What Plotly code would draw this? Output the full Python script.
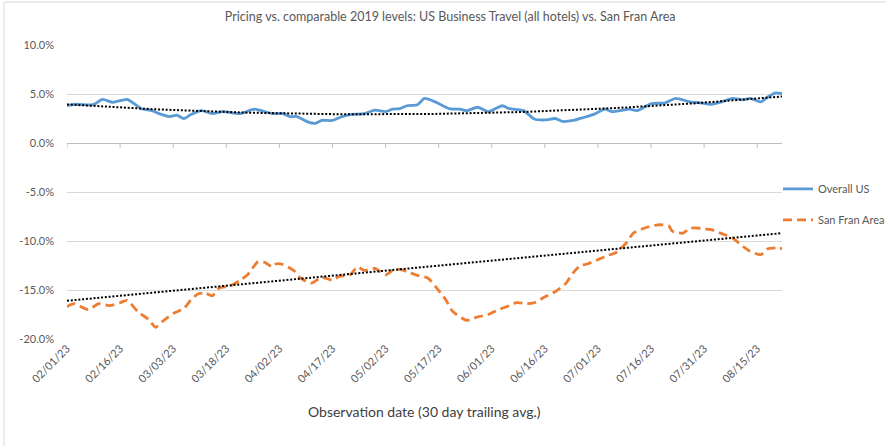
import numpy as np
import pandas as pd
import plotly.graph_objects as go

# Overall US: 30-day trailing average pricing vs. 2019 (%)
us_dates = [
    "2023-02-01", "2023-02-03", "2023-02-08", "2023-02-09", "2023-02-11", "2023-02-14",
    "2023-02-18", "2023-02-22", "2023-02-25", "2023-02-27", "2023-03-02", "2023-03-04",
    "2023-03-06", "2023-03-08", "2023-03-11", "2023-03-14", "2023-03-17", "2023-03-22",
    "2023-03-26", "2023-03-31", "2023-04-03", "2023-04-05", "2023-04-07", "2023-04-10",
    "2023-04-12", "2023-04-14", "2023-04-17", "2023-04-19", "2023-04-22", "2023-04-26",
    "2023-04-29", "2023-05-02", "2023-05-04", "2023-05-06", "2023-05-08", "2023-05-11",
    "2023-05-13", "2023-05-16", "2023-05-20", "2023-05-23", "2023-05-25", "2023-05-28",
    "2023-05-31", "2023-06-04", "2023-06-06", "2023-06-10", "2023-06-13", "2023-06-16",
    "2023-06-19", "2023-06-21", "2023-06-24", "2023-06-27", "2023-06-30", "2023-07-03",
    "2023-07-05", "2023-07-10", "2023-07-12", "2023-07-16", "2023-07-20", "2023-07-23",
    "2023-07-27", "2023-07-30", "2023-08-02", "2023-08-05", "2023-08-08", "2023-08-11",
    "2023-08-13", "2023-08-16", "2023-08-18", "2023-08-20", "2023-08-22",
]
us_values = [
    3.8, 3.95, 3.9, 4.0, 4.45, 4.15,
    4.45, 3.5, 3.3, 3.0, 2.7, 2.85,
    2.5, 2.9, 3.3, 3.0, 3.2, 3.0,
    3.45, 3.0, 3.0, 2.7, 2.7, 2.15,
    2.0, 2.3, 2.3, 2.6, 2.9, 3.0,
    3.35, 3.2, 3.45, 3.5, 3.8, 3.9,
    4.55, 4.2, 3.5, 3.45, 3.3, 3.65,
    3.2, 3.8, 3.5, 3.3, 2.45, 2.35,
    2.5, 2.2, 2.3, 2.6, 2.95, 3.45,
    3.2, 3.45, 3.3, 4.0, 4.1, 4.55,
    4.2, 4.1, 3.95, 4.2, 4.55, 4.4,
    4.55, 4.2, 4.7, 5.1, 5.05,
]

# San Fran Area: 30-day trailing average pricing vs. 2019 (%)
sf_dates = [
    "2023-02-01", "2023-02-03", "2023-02-07", "2023-02-10", "2023-02-13", "2023-02-16",
    "2023-02-18", "2023-02-21", "2023-02-24", "2023-02-26", "2023-02-28", "2023-03-03",
    "2023-03-06", "2023-03-08", "2023-03-10", "2023-03-12", "2023-03-14", "2023-03-16",
    "2023-03-19", "2023-03-22", "2023-03-24", "2023-03-27", "2023-03-29", "2023-03-31",
    "2023-04-01", "2023-04-03", "2023-04-06", "2023-04-08", "2023-04-11", "2023-04-14",
    "2023-04-17", "2023-04-19", "2023-04-22", "2023-04-24", "2023-04-26", "2023-04-29",
    "2023-05-02", "2023-05-04", "2023-05-06", "2023-05-09", "2023-05-11", "2023-05-14",
    "2023-05-16", "2023-05-19", "2023-05-21", "2023-05-25", "2023-05-28", "2023-05-31",
    "2023-06-03", "2023-06-06", "2023-06-08", "2023-06-11", "2023-06-13", "2023-06-16",
    "2023-06-19", "2023-06-22", "2023-06-24", "2023-06-26", "2023-06-28", "2023-07-01",
    "2023-07-04", "2023-07-06", "2023-07-09", "2023-07-11", "2023-07-14", "2023-07-18",
    "2023-07-21", "2023-07-22", "2023-07-25", "2023-07-27", "2023-07-30", "2023-08-02",
    "2023-08-05", "2023-08-08", "2023-08-11", "2023-08-13", "2023-08-16", "2023-08-18",
    "2023-08-21", "2023-08-22",
]
sf_values = [
    -16.7, -16.4, -17.0, -16.4, -16.6, -16.3,
    -16.05, -17.2, -18.0, -18.8, -18.2, -17.4,
    -16.9, -16.0, -15.4, -15.3, -15.6, -14.8,
    -14.6, -14.0, -13.45, -12.1, -12.2, -12.65,
    -12.35, -12.4, -13.0, -13.8, -14.3, -13.7,
    -14.0, -13.6, -13.45, -12.65, -13.0, -12.8,
    -13.45, -13.0, -12.9, -13.25, -13.5, -13.8,
    -14.6, -16.0, -17.2, -18.1, -17.75, -17.5,
    -17.0, -16.6, -16.3, -16.4, -16.3, -15.7,
    -15.15, -14.3, -13.25, -12.5, -12.35, -11.9,
    -11.45, -11.2, -10.2, -9.2, -8.7, -8.35,
    -8.45, -9.0, -9.2, -8.7, -8.7, -8.85,
    -9.25, -9.7, -10.55, -11.05, -11.4, -10.8,
    -10.7, -10.8,
]

# Linear trendline for San Fran Area (values at the first and last date)
sf_trend_dates = ["2023-02-01", "2023-08-22"]
sf_trend_values = [-16.1, -9.2]

tick_dates = [
    "2023-02-01", "2023-02-16", "2023-03-03", "2023-03-18", "2023-04-02", "2023-04-17",
    "2023-05-02", "2023-05-17", "2023-06-01", "2023-06-16", "2023-07-01", "2023-07-16",
    "2023-07-31", "2023-08-15",
]
y_ticks = [10, 5, 0, -5, -10, -15, -20]
y_tick_labels = [f"{v:.1f}%" for v in y_ticks]

title_text = "Pricing vs. comparable 2019 levels: US Business Travel (all hotels) vs. San Fran Area"
x_title = "Observation date (30 day trailing avg.)"

FONT = "Lato"
BLUE = "#5b9bd5"
ORANGE = "#ed7d31"
GRID = "#d9d9d9"
TEXT = "#595959"

start = pd.Timestamp("2023-02-01")
end = pd.Timestamp("2023-08-22")


def poly_trend(dates, values, order):
    """Least-squares polynomial trendline evaluated daily across the range."""
    d = (pd.to_datetime(dates) - start).days.to_numpy(dtype=float)
    coef = np.polyfit(d, np.asarray(values, dtype=float), order)
    grid = np.arange(0, (end - start).days + 1, dtype=float)
    return start + pd.to_timedelta(grid, unit="D"), np.polyval(coef, grid)


us_tx, us_ty = poly_trend(us_dates, us_values, 2)

fig = go.Figure()
fig.add_trace(go.Scatter(
    x=pd.to_datetime(us_dates), y=us_values, name="Overall US", mode="lines",
    line=dict(color=BLUE, width=2.8, shape="spline", smoothing=0.6),
    legendgroup="us",
))
fig.add_trace(go.Scatter(
    x=pd.to_datetime(sf_dates), y=sf_values, name="San Fran Area", mode="lines",
    line=dict(color=ORANGE, width=2.8, dash="9px,5px", shape="spline", smoothing=0.6),
    legendgroup="sf",
))
for tx, ty in ((us_tx, us_ty), (pd.to_datetime(sf_trend_dates), sf_trend_values)):
    fig.add_trace(go.Scatter(
        x=tx, y=ty, mode="lines", showlegend=False, hoverinfo="skip",
        line=dict(color="#000000", width=2, dash="2px,1.8px"),
    ))

# small tick marks hanging below the 0% axis line
shapes = []
for t in tick_dates:
    shapes.append(dict(
        type="line", xref="x", yref="y", x0=t, x1=t,
        ysizemode="pixel", yanchor=0, y0=0, y1=-5,
        line=dict(color="#bfbfbf", width=1),
    ))
# chart frame edges (left and top)
shapes.append(dict(type="line", xref="paper", yref="paper",
                   x0=-0.0881, x1=-0.0881, y0=1.146, y1=-0.364,
                   line=dict(color=GRID, width=1)))
shapes.append(dict(type="line", xref="paper", yref="paper",
                   x0=-0.0881, x1=1.1455, y0=1.146, y1=1.146,
                   line=dict(color=GRID, width=1)))

fig.update_layout(
    width=888, height=448,
    margin=dict(l=67, r=106, t=45, b=109, autoexpand=False),
    paper_bgcolor="white", plot_bgcolor="white",
    font=dict(family=FONT, color=TEXT, size=10),
    title=dict(text=title_text, x=0.507, xref="container", y=0.962,
               yref="container", xanchor="center", yanchor="middle",
               font=dict(family=FONT, size=12.5, color=TEXT)),
    showlegend=True,
    legend=dict(x=0.9944, y=0.56, xanchor="left", yanchor="top",
                traceorder="grouped", tracegroupgap=12, itemwidth=30,
                font=dict(family=FONT, size=11, color=TEXT),
                bgcolor="rgba(0,0,0,0)"),
    xaxis=dict(
        type="date", range=[start, end],
        tickmode="array", tickvals=tick_dates, tickformat="%m/%d/%y",
        tickangle=-45, showgrid=False, showline=False, zeroline=False,
        ticks="", tickfont=dict(family=FONT, size=11, color=TEXT),
    ),
    yaxis=dict(
        range=[-20, 10], tickmode="array", tickvals=y_ticks, ticktext=y_tick_labels,
        showgrid=True, gridcolor=GRID, gridwidth=1,
        zeroline=True, zerolinecolor="#bfbfbf", zerolinewidth=1,
        showline=False, ticks="", ticklabelstandoff=12,
        tickfont=dict(family=FONT, size=11, color=TEXT),
    ),
    shapes=shapes,
    annotations=[dict(
        text=x_title, xref="paper", yref="paper", x=0.5, y=-0.248,
        xanchor="center", yanchor="middle", showarrow=False,
        font=dict(family=FONT, size=14, color="#404040"),
    )],
)

fig.write_html("out.html")
